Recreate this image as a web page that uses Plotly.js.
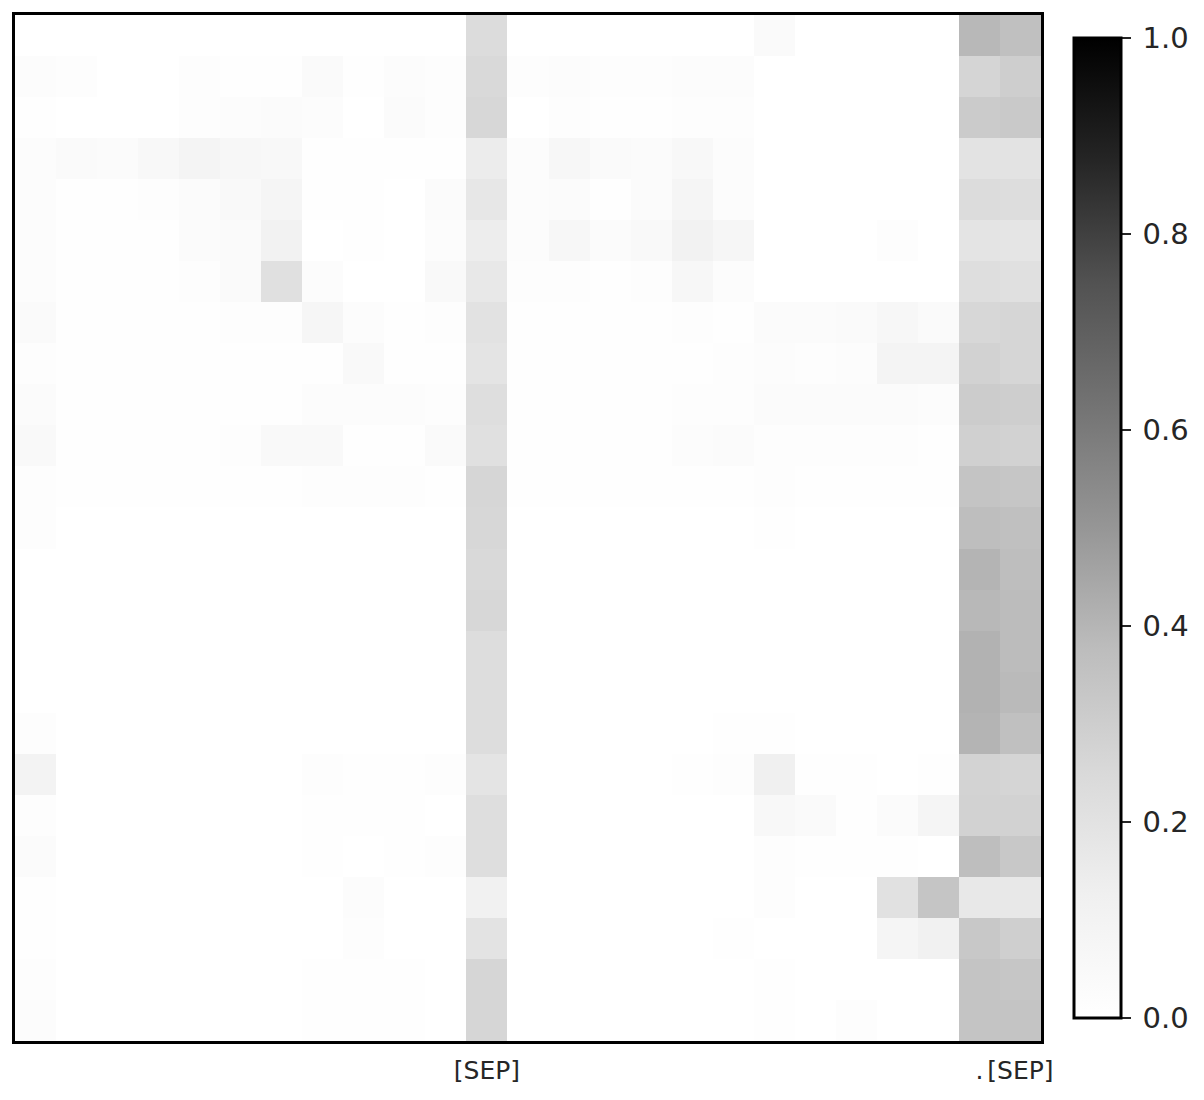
<!DOCTYPE html>
<html>
<head>
<meta charset="utf-8">
<script src="https://cdn.plot.ly/plotly-3.0.1.min.js"></script>
<style>html,body{margin:0;padding:0;background:#fff;}#chart{width:1204px;height:1100px;}</style>
</head>
<body>
<div id="chart"></div>
<script>
// Attention weights: 25 query rows (top to bottom) x 25 key columns (left to right)
const row00 = [0,0,0,0,0,0,0,0,0,0,0, 0.234, 0,0,0,0,0,0,0.042,0,0,0,0, 0.391,0.362];
const row01 = [0.025,0.017,0,0,0.017,0.008,0.008,0.042,0.008,0.025,0.017, 0.250, 0.017,0.025,0.017,0.017,0.025,0.025,0,0,0,0,0, 0.268,0.299];
const row02 = [0.008,0.004,0.004,0.004,0.017,0.025,0.033,0.025,0,0.033,0.017, 0.259, 0,0.017,0.008,0.008,0.017,0.017,0,0,0,0,0, 0.313,0.321];
const row03 = [0.025,0.042,0.033,0.058,0.092,0.067,0.058,0.008,0.008,0.008,0.008, 0.147, 0.025,0.067,0.042,0.033,0.058,0.025,0,0,0,0,0, 0.196,0.196];
const row04 = [0.025,0.008,0.008,0.017,0.033,0.050,0.083,0.008,0.008,0,0.033, 0.174, 0.025,0.033,0.008,0.033,0.083,0.025,0,0,0,0,0, 0.234,0.228];
const row05 = [0.025,0.008,0.008,0.008,0.033,0.042,0.108,0,0.008,0,0.025, 0.141, 0.025,0.067,0.033,0.050,0.108,0.075,0,0,0,0.017,0, 0.190,0.185];
const row06 = [0.025,0.008,0.008,0.008,0.017,0.042,0.212,0.025,0,0,0.050, 0.168, 0.017,0.017,0.008,0.017,0.067,0.025,0,0,0,0,0, 0.223,0.212];
const row07 = [0.042,0.008,0.008,0.008,0.008,0.017,0.017,0.075,0.025,0.008,0.017, 0.201, 0.008,0.008,0.008,0.008,0.017,0.008,0.033,0.033,0.042,0.067,0.042, 0.259,0.263];
const row08 = [0.017,0.008,0.008,0.008,0.008,0.008,0.008,0.008,0.050,0.008,0.008, 0.190, 0.008,0.008,0.008,0.008,0.008,0.017,0.025,0.017,0.025,0.092,0.092, 0.281,0.263];
const row09 = [0.033,0.008,0.008,0.008,0.008,0.008,0.008,0.025,0.025,0.025,0.017, 0.223, 0.008,0.008,0.008,0.008,0.017,0.017,0.033,0.033,0.033,0.033,0.025, 0.308,0.299];
const row10 = [0.050,0.008,0.008,0.008,0.008,0.017,0.050,0.050,0.008,0.008,0.042, 0.212, 0.008,0.008,0.008,0.008,0.025,0.033,0.017,0.017,0.017,0.017,0.008, 0.290,0.281];
const row11 = [0.017,0.008,0.008,0.008,0.008,0.008,0.008,0.017,0.017,0.017,0.008, 0.263, 0.008,0.008,0.008,0.008,0.008,0.008,0.017,0.008,0.008,0.008,0.008, 0.344,0.335];
const row12 = [0.017,0,0,0,0,0,0,0,0,0,0, 0.259, 0,0,0,0,0,0,0.008,0,0,0,0, 0.371,0.362];
const row13 = [0,0,0,0,0,0,0,0,0,0,0, 0.250, 0,0,0,0,0,0,0,0,0,0,0, 0.404,0.371];
const row14 = [0,0,0,0,0,0,0,0,0,0,0, 0.259, 0,0,0,0,0,0,0,0,0,0,0, 0.391,0.378];
const row15 = [0,0,0,0,0,0,0,0,0,0,0, 0.228, 0,0,0,0,0,0,0,0,0,0,0, 0.410,0.378];
const row16 = [0,0,0,0,0,0,0,0,0,0,0, 0.228, 0,0,0,0,0,0,0,0,0,0,0, 0.410,0.385];
const row17 = [0.017,0,0,0,0,0,0,0,0,0,0, 0.228, 0,0,0,0,0,0.008,0.008,0,0,0,0, 0.404,0.362];
const row18 = [0.100,0,0,0,0,0,0,0.017,0.008,0.008,0.017, 0.190, 0,0,0,0,0.008,0.017,0.125,0.008,0.008,0,0.008, 0.277,0.268];
const row19 = [0.017,0,0,0,0,0,0,0.008,0.008,0.008,0, 0.223, 0,0,0,0,0,0,0.058,0.042,0.008,0.033,0.083, 0.281,0.281];
const row20 = [0.033,0,0,0,0,0,0,0.008,0,0.008,0.017, 0.223, 0,0,0,0,0,0,0.017,0.008,0.008,0.008,0, 0.371,0.326];
const row21 = [0.008,0,0,0,0,0,0,0,0.025,0,0, 0.117, 0,0,0,0,0,0,0.017,0,0,0.207,0.339, 0.168,0.168];
const row22 = [0.008,0,0,0,0,0,0,0,0.017,0,0, 0.196, 0,0,0,0,0,0.008,0,0,0,0.083,0.117, 0.326,0.295];
const row23 = [0.017,0,0,0,0,0,0,0.008,0.008,0.008,0, 0.263, 0,0,0,0,0,0,0.008,0,0,0,0, 0.344,0.335];
const row24 = [0.025,0,0,0,0,0,0,0.008,0.008,0.008,0, 0.263, 0,0,0,0,0,0,0.008,0,0.017,0,0, 0.344,0.344];

const attention = [row00,row01,row02,row03,row04,row05,row06,row07,row08,row09,row10,row11,row12,
                   row13,row14,row15,row16,row17,row18,row19,row20,row21,row22,row23,row24];

const colIndex = Array.from({length: 25}, (_, i) => i);
const rowIndex = Array.from({length: 25}, (_, i) => i);
const tickPositions = [11, 23, 24];
const tickLabels = ['[SEP]', '.', '[SEP]'];
const cbTicks = [0, 0.2, 0.4, 0.6, 0.8, 1.0];

// matplotlib "Greys"
const greys = [
  [0.0, '#ffffff'], [0.125, '#f0f0f0'], [0.25, '#d9d9d9'], [0.375, '#bdbdbd'],
  [0.5, '#969696'], [0.625, '#737373'], [0.75, '#525252'], [0.875, '#252525'], [1.0, '#000000']
];

const trace = {
  type: 'heatmap',
  z: attention,
  x: colIndex,
  y: rowIndex,
  zmin: 0, zmax: 1,
  colorscale: greys,
  showscale: true,
  hoverinfo: 'x+y+z',
  colorbar: {
    x: 1.032, xanchor: 'left', xpad: 0,
    y: 0.5, yanchor: 'middle', ypad: 0,
    len: 0.955, lenmode: 'fraction',
    thickness: 47, thicknessmode: 'pixels',
    outlinewidth: 3, outlinecolor: '#000',
    tickmode: 'array', tickvals: cbTicks, ticktext: cbTicks.map(v => '\u2009' + v.toFixed(1)),
    ticks: 'outside', ticklen: 9, tickwidth: 2, tickcolor: '#262626',
    tickfont: {family: 'DejaVu Sans', size: 29, color: '#262626'}
  }
};

const layout = {
  width: 1204, height: 1100,
  margin: {l: 15, r: 163, t: 15, b: 59, pad: 0},
  paper_bgcolor: '#fff', plot_bgcolor: '#fff',
  xaxis: {
    range: [-0.5, 24.5], showgrid: false, zeroline: false,
    showline: true, mirror: true, linecolor: '#000', linewidth: 3,
    tickmode: 'array', tickvals: tickPositions, ticktext: tickLabels,
    ticks: '', ticklabelstandoff: 5,
    tickfont: {family: 'DejaVu Sans', size: 25, color: '#262626'}
  },
  yaxis: {
    range: [24.5, -0.5], showgrid: false, zeroline: false,
    showline: true, mirror: true, linecolor: '#000', linewidth: 3,
    showticklabels: false, ticks: ''
  }
};

Plotly.newPlot('chart', [trace], layout, {displayModeBar: false, staticPlot: true});
</script>
</body>
</html>
